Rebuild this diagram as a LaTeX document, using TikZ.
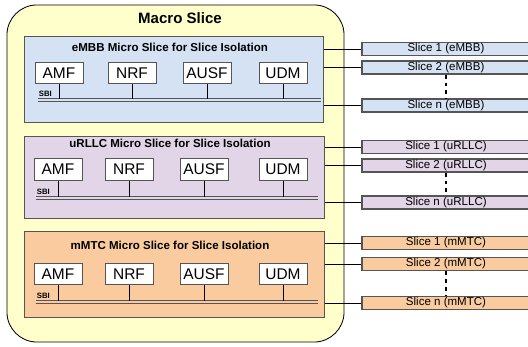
\documentclass[tikz,border=0pt]{standalone}
\usepackage{fontspec}
\setmainfont{Liberation Sans}
\usepackage{xcolor}
\usetikzlibrary{positioning,calc}

\definecolor{macroyellow}{HTML}{FFFFCC}
\definecolor{embbblue}{HTML}{D5E2F4}
\definecolor{urllcpurple}{HTML}{E1D5E7}
\definecolor{mmtcorange}{HTML}{F9CB9E}
\definecolor{edgegray}{HTML}{555555}

\tikzset{
  macro/.style={draw=black, fill=macroyellow, rounded corners=0.75cm, line width=0.6pt,
    minimum width=8.425cm, minimum height=8.425cm, inner sep=0pt},
  micro/.style={draw=edgegray, line width=0.7pt, inner sep=0pt},
  microtitle/.style={font=\fontsize{8.2}{9}\selectfont\bfseries, inner sep=0pt},
  nfbox/.style={draw=edgegray, fill=white, line width=0.6pt, minimum width=1.2cm,
    minimum height=0.53cm, inner sep=0pt, font=\fontsize{11}{12}\selectfont},
  slicebar/.style={draw=edgegray, line width=0.9pt, minimum width=4.2cm,
    minimum height=0.325cm, inner sep=0pt, font=\fontsize{8.2}{9}\selectfont},
  bus/.style={draw=edgegray, line width=0.55pt, double distance=1.1pt},
  sbi/.style={font=\fontsize{5.5}{6}\selectfont\bfseries, inner sep=0.5pt, anchor=south west},
  link/.style={draw=black, line width=0.5pt},
  gap/.style={draw=black, line width=1.4pt, dash pattern=on 2.8pt off 2.8pt}
}

\begin{document}
\begin{tikzpicture}[x=0.025cm, y=-0.025cm]
    \useasboundingbox (0,0) rectangle (528,347);

    % Macro slice
    \node[macro] (macro) at (175.5,173.5) {};
    \node[font=\fontsize{10.7}{12}\selectfont\bfseries] (macrotitle) at (180,18) {Macro Slice};

    % eMBB micro slice
    \node[micro, fill=embbblue, minimum width=7.45cm, minimum height=2.125cm] (embb) at (174,79.5) {};
    \node[microtitle] (embbtitle) at (170,47) {eMBB Micro Slice for Slice Isolation};
    \node[nfbox] (amfA) at (59,73) {AMF};
    \node[nfbox] (nrfA) at (132,73) {NRF};
    \node[nfbox] (ausfA) at (207,73) {AUSF};
    \node[nfbox] (udmA) at (283,73) {UDM};
    \coordinate (busAL) at (38,100);
    \coordinate (busAR) at (321,100);
    \draw[bus, double=embbblue] (busAL) -- (busAR); % SBI
    \node[sbi] (sbiA) at (38,98) {SBI};
    \foreach \nf in {amfA,nrfA,ausfA,udmA}
        \draw[link] (\nf.south) -- ($(\nf.south |- busAL)+(0,-1)$);

    % uRLLC micro slice
    \node[micro, fill=urllcpurple, minimum width=7.475cm, minimum height=2.025cm] (urllc) at (174.5,177.5) {};
    \node[microtitle] (urllctitle) at (170,143) {uRLLC Micro Slice for Slice Isolation};
    \node[nfbox] (amfB) at (58,169.5) {AMF};
    \node[nfbox] (nrfB) at (129,169.5) {NRF};
    \node[nfbox] (ausfB) at (204,169.5) {AUSF};
    \node[nfbox] (udmB) at (283,169.5) {UDM};
    \coordinate (busBL) at (36,198);
    \coordinate (busBR) at (318,198);
    \draw[bus, double=urllcpurple] (busBL) -- (busBR); % SBI
    \node[sbi] (sbiB) at (36,196) {SBI};
    \foreach \nf in {amfB,nrfB,ausfB,udmB}
        \draw[link] (\nf.south) -- ($(\nf.south |- busBL)+(0,-1)$);

    % mMTC micro slice
    \node[micro, fill=mmtcorange, minimum width=7.475cm, minimum height=2.125cm] (mmtc) at (174.5,274.5) {};
    \node[microtitle] (mmtctitle) at (170,245) {mMTC Micro Slice for Slice Isolation};
    \node[nfbox] (amfC) at (58,274) {AMF};
    \node[nfbox] (nrfC) at (129,274) {NRF};
    \node[nfbox] (ausfC) at (204,274) {AUSF};
    \node[nfbox] (udmC) at (283,274) {UDM};
    \coordinate (busCL) at (36,302);
    \coordinate (busCR) at (318,302);
    \draw[bus, double=mmtcorange] (busCL) -- (busCR); % SBI
    \node[sbi] (sbiC) at (36,300) {SBI};
    \foreach \nf in {amfC,nrfC,ausfC,udmC}
        \draw[link] (\nf.south) -- ($(\nf.south |- busCL)+(0,-1)$);

    % Slice instances
    \node[slicebar, fill=embbblue] (sliceA1) at (446,49) {Slice 1 (eMBB)};
    \node[slicebar, fill=embbblue] (sliceA2) at (446,67.5) {Slice 2 (eMBB)};
    \node[slicebar, fill=embbblue] (sliceAn) at (446,105.5) {Slice n (eMBB)};
    \node[slicebar, fill=urllcpurple] (sliceB1) at (446,147) {Slice 1 (uRLLC)};
    \node[slicebar, fill=urllcpurple] (sliceB2) at (446,165.5) {Slice 2 (uRLLC)};
    \node[slicebar, fill=urllcpurple] (sliceBn) at (446,202.5) {Slice n (uRLLC)};
    \node[slicebar, fill=mmtcorange] (sliceC1) at (446,243) {Slice 1 (mMTC)};
    \node[slicebar, fill=mmtcorange] (sliceC2) at (446,264) {Slice 2 (mMTC)};
    \node[slicebar, fill=mmtcorange] (sliceCn) at (446,303) {Slice n (mMTC)};

    % Links to micro slices
    \foreach \s in {A1,A2,An}
        \draw[link] (slice\s.west) -- (slice\s.west -| embb.east);
    \foreach \s in {B1,B2,Bn}
        \draw[link] (slice\s.west) -- (slice\s.west -| urllc.east);
    \foreach \s in {C1,C2,Cn}
        \draw[link] (slice\s.west) -- (slice\s.west -| mmtc.east);

    % Omitted slices
    \draw[gap] (sliceA2.south) -- (sliceAn.north);
    \draw[gap] (sliceB2.south) -- (sliceBn.north);
    \draw[gap] (sliceC2.south) -- (sliceCn.north);
\end{tikzpicture}
\end{document}
